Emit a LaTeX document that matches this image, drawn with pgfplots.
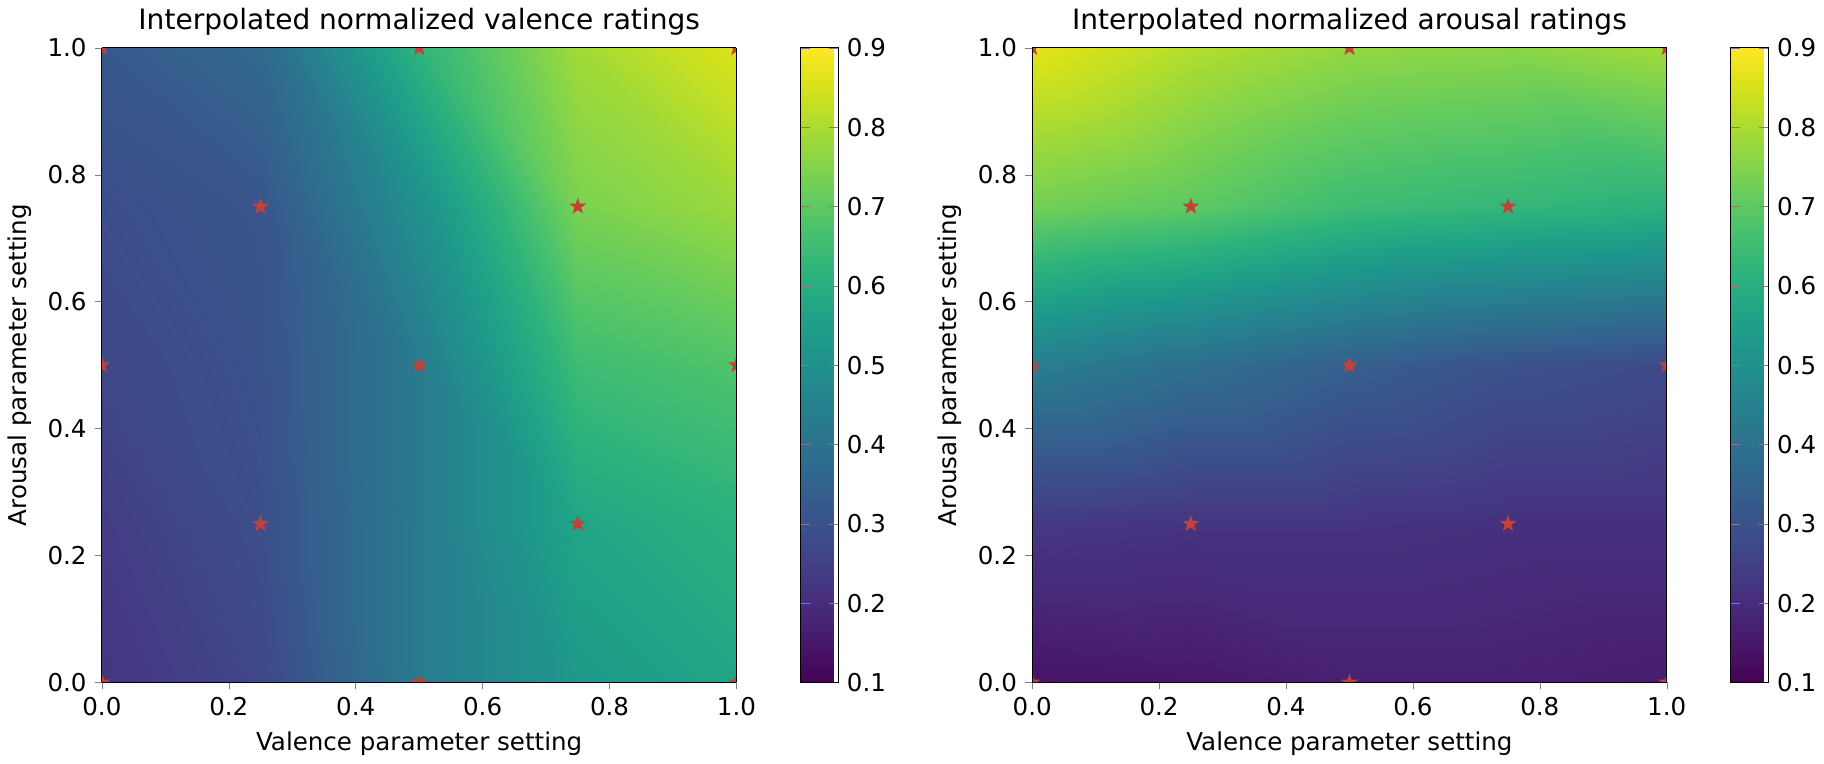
\documentclass[border=0pt]{standalone}
\usepackage{pgfplots}
\pgfplotsset{compat=1.18}
\usepackage{fontspec}
\setmainfont{DejaVu Sans}
\definecolor{starred}{HTML}{C4413A}
\pgfdeclareplotmark{fstar}{%
  \pgfpathmoveto{\pgfqpointpolar{90}{\pgfplotmarksize}}%
  \pgfpathlineto{\pgfqpointpolar{126}{0.4\pgfplotmarksize}}%
  \pgfpathlineto{\pgfqpointpolar{162}{\pgfplotmarksize}}%
  \pgfpathlineto{\pgfqpointpolar{198}{0.4\pgfplotmarksize}}%
  \pgfpathlineto{\pgfqpointpolar{234}{\pgfplotmarksize}}%
  \pgfpathlineto{\pgfqpointpolar{270}{0.4\pgfplotmarksize}}%
  \pgfpathlineto{\pgfqpointpolar{306}{\pgfplotmarksize}}%
  \pgfpathlineto{\pgfqpointpolar{342}{0.4\pgfplotmarksize}}%
  \pgfpathlineto{\pgfqpointpolar{18}{\pgfplotmarksize}}%
  \pgfpathlineto{\pgfqpointpolar{54}{0.4\pgfplotmarksize}}%
  \pgfpathclose\pgfusepathqfill}
\pgfplotstableread{
x y z
0 0 0.22
0.25 0 0.27
0.5 0 0.43
0.75 0 0.53
1 0 0.57

0 0.25 0.24
0.25 0.25 0.29
0.5 0.25 0.43
0.75 0.25 0.57
1 0.25 0.61

0 0.5 0.27
0.25 0.5 0.30
0.5 0.5 0.43
0.75 0.5 0.65
1 0.5 0.68

0 0.75 0.29
0.25 0.75 0.31
0.5 0.75 0.50
0.75 0.75 0.74
1 0.75 0.78

0 1 0.32
0.25 1 0.37
0.5 1 0.62
0.75 1 0.79
1 1 0.86
}\valtab
\pgfplotstableread{
x y z
0 0 0.14
0.25 0 0.15
0.5 0 0.17
0.75 0 0.17
1 0 0.16

0 0.25 0.23
0.25 0.25 0.22
0.5 0.25 0.22
0.75 0.25 0.21
1 0.25 0.21

0 0.5 0.44
0.25 0.5 0.39
0.5 0.5 0.34
0.75 0.5 0.30
1 0.5 0.28

0 0.75 0.73
0.25 0.75 0.70
0.5 0.75 0.65
0.75 0.75 0.63
1 0.75 0.61

0 1 0.87
0.25 1 0.81
0.5 1 0.77
0.75 1 0.76
1 1 0.79
}\aroTab
\pgfplotstableread{
x y z
0 0 1
0.5 0 1
1 0 1
0.25 0.25 1
0.75 0.25 1
0 0.5 1
0.5 0.5 1
1 0.5 1
0.25 0.75 1
0.75 0.75 1
0 1 1
0.5 1 1
1 1 1
}\starTab
\pgfplotsset{
 hm/.style={
  scale only axis, width=271.5pt, height=271.5pt,
  view={0}{90}, xmin=0,xmax=1,ymin=0,ymax=1,
  xtick={0,0.2,...,1}, ytick={0,0.2,...,1},
  xticklabel style={/pgf/number format/.cd,fixed,fixed zerofill,precision=1},
  yticklabel style={/pgf/number format/.cd,fixed,fixed zerofill,precision=1},
  /pgf/number format/assume math mode=true,
  tick label style={font=\fontsize{10.5}{12}\selectfont},
  label style={font=\fontsize{10.5}{12}\selectfont},
  title style={font=\fontsize{12}{14}\selectfont, yshift=-4pt},
  tick align=outside, tick pos=left, major tick length=3pt,
  colormap name=viridis, point meta min=0.1, point meta max=0.9,
  colorbar, colorbar style={width=16.5pt, xshift=7pt,
    ytick={0.1,0.2,...,0.9},
    yticklabel style={/pgf/number format/.cd,fixed,fixed zerofill,precision=1},
    /pgf/number format/assume math mode=true,
    tick label style={font=\fontsize{10.5}{12}\selectfont}},
  axis on top, clip marker paths=true,
  xlabel={Valence parameter setting}, ylabel={Arousal parameter setting},
 },
 st/.style={only marks, mark=fstar, mark size=3.8pt, color=starred}
}
\begin{document}
\begin{tikzpicture}
\begin{axis}[hm, title={Interpolated normalized valence ratings}]
\addplot3[surf, shader=interp, mesh/rows=5] table {\valtab};
\addplot3[st] table {\starTab};
\end{axis}
\begin{axis}[hm, at={(398pt,0)}, title={Interpolated normalized arousal ratings}]
\addplot3[surf, shader=interp, mesh/rows=5] table {\aroTab};
\addplot3[st] table {\starTab};
\end{axis}
\end{tikzpicture}
\end{document}
